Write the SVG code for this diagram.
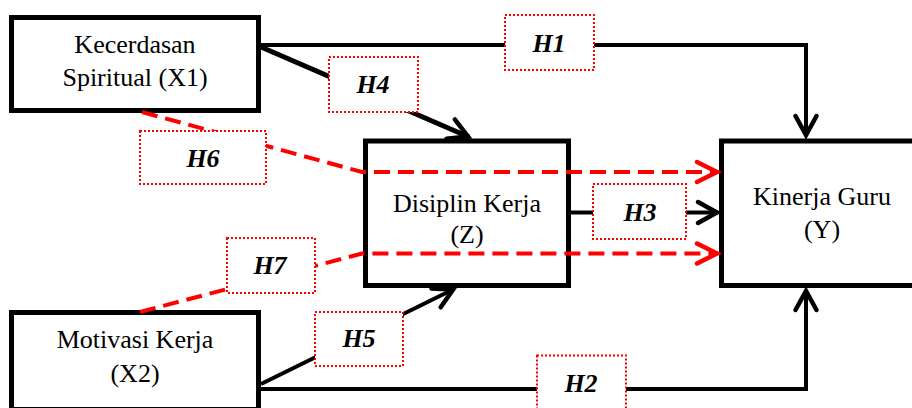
<svg xmlns="http://www.w3.org/2000/svg" width="912" height="408" viewBox="0 0 912 408">
<defs>
<style>
.node{fill:#fff;stroke:#000;stroke-width:5}
.nt{font-family:"Liberation Serif","Times New Roman",serif;font-size:26px;fill:#000;text-anchor:middle}
.hl{font-family:"Liberation Serif","Times New Roman",serif;font-size:26px;font-weight:bold;font-style:italic;fill:#000;text-anchor:middle}
.hb{fill:#fff;stroke:#ff0000;stroke-width:2;stroke-dasharray:2 2}
.bl{fill:none;stroke:#000;stroke-width:4;stroke-linejoin:miter}
.rd{fill:none;stroke:#ff0000;stroke-width:4;stroke-dasharray:16 8}
</style>
<marker id="ab" markerUnits="userSpaceOnUse" markerWidth="40" markerHeight="40" refX="0" refY="0" orient="auto" overflow="visible">
<path d="M-20,-10.5 L-1,0 L-20,10.5" fill="none" stroke="#000" stroke-width="4.5" stroke-linecap="round" stroke-linejoin="miter"/>
</marker>
<marker id="ar" markerUnits="userSpaceOnUse" markerWidth="40" markerHeight="40" refX="0" refY="0" orient="auto" overflow="visible">
<path d="M-21,-10 L-1,0 L-21,10" fill="none" stroke="#ff0000" stroke-width="4.5" stroke-linecap="round" stroke-linejoin="miter"/>
</marker>
</defs>
<rect width="912" height="408" fill="#fff"/>
<g id="X1">
<rect class="node" x="11.5" y="17.5" width="247" height="93"/>
<text class="nt" x="135" y="53">Kecerdasan</text>
<text class="nt" x="135" y="86">Spiritual (X1)</text>
</g>
<g id="X2">
<rect class="node" x="11.5" y="312.5" width="247" height="97"/>
<text class="nt" x="135" y="348">Motivasi Kerja</text>
<text class="nt" x="135" y="382">(X2)</text>
</g>
<g id="Z">
<rect class="node" x="365.5" y="141" width="203" height="144.5"/>
<text class="nt" x="467" y="212">Disiplin Kerja</text>
<text class="nt" x="467" y="243">(Z)</text>
</g>
<g id="Y">
<rect class="node" x="721.5" y="141" width="220" height="144.5"/>
<text class="nt" x="822" y="205">Kinerja Guru</text>
<text class="nt" x="822" y="238">(Y)</text>
</g>
<g id="connectors">
<polyline class="bl" points="261,45 806,45 806,136" marker-end="url(#ab)"/>
<polyline class="bl" points="261,389 806,389 806,290" marker-end="url(#ab)"/>
<line class="bl" x1="261" y1="47" x2="469" y2="137" style="stroke-width:5" marker-end="url(#ab)"/>
<line class="bl" x1="261" y1="384" x2="454" y2="289" marker-end="url(#ab)"/>
<line class="bl" x1="571" y1="212.5" x2="718" y2="212.5" marker-end="url(#ab)"/>
<polyline class="rd" points="142,112 362,172 718,172" marker-end="url(#ar)"/>
<polyline class="rd" points="140,312 362,253.5 718,253.5" marker-end="url(#ar)"/>
</g>
<g id="labels">
<g id="H1"><rect class="hb" x="505" y="15" width="89" height="55"/><text class="hl" x="549" y="52">H1</text></g>
<g id="H2"><rect class="hb" x="537" y="355.5" width="89" height="60"/><text class="hl" x="581" y="392">H2</text></g>
<g id="H3"><rect class="hb" x="593" y="184" width="93" height="55"/><text class="hl" x="640" y="221">H3</text></g>
<g id="H4"><rect class="hb" x="329" y="57" width="89" height="55"/><text class="hl" x="373" y="93">H4</text></g>
<g id="H5"><rect class="hb" x="315" y="312" width="88" height="54"/><text class="hl" x="359" y="347">H5</text></g>
<g id="H6"><rect class="hb" x="140" y="131" width="126" height="53"/><text class="hl" x="203" y="167">H6</text></g>
<g id="H7"><rect class="hb" x="227" y="238" width="88" height="55"/><text class="hl" x="270" y="274">H7</text></g>
</g>
</svg>
